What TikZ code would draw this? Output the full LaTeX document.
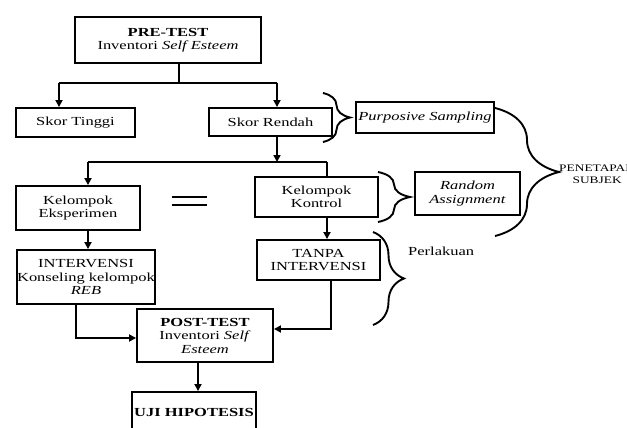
\documentclass[tikz,border=0pt]{standalone}
\usepackage{fontspec}
\setmainfont{Liberation Serif}[FakeStretch=1.34]
\usetikzlibrary{arrows.meta,decorations.pathreplacing}
\tikzset{
  bx/.style={draw, line width=1.9pt, inner sep=0pt, align=center, font=\fontsize{12.3}{13.5}\selectfont},
  ln/.style={line width=1.7pt},
  arr/.style={line width=1.7pt, -{Triangle[length=7pt,width=7pt]}},
  br/.style={line width=1.9pt, decorate, decoration={brace}},
  lbl/.style={inner sep=0pt, align=center}
}
\begin{document}
\begin{tikzpicture}[x=1pt,y=-1pt]
\useasboundingbox (0,0) rectangle (627,428);
\fill[white] (0,0) rectangle (627,428);
% boxes
\node[bx, minimum width=186pt, minimum height=46pt] (pre) at (168,40) {\textbf{PRE-TEST}\\Inventori \textit{Self Esteem}};
\node[bx, minimum width=119pt, minimum height=29pt] (st) at (75.5,122.5) {Skor Tinggi};
\node[bx, minimum width=123pt, minimum height=28pt] (sr) at (270.5,122) {Skor Rendah};
\node[bx, minimum width=138pt, minimum height=31pt] (ps) at (425,117.5) {\textit{Purposive Sampling}};
\node[bx, minimum width=124pt, minimum height=44pt] (ke) at (78,208) {Kelompok\\Eksperimen};
\node[bx, minimum width=123pt, minimum height=40pt] (kk) at (316.5,197) {Kelompok\\Kontrol};
\node[bx, minimum width=105pt, minimum height=43pt] (ra) at (467.5,193.5) {\textit{Random}\\\textit{Assignment}};
\node[bx, minimum width=138pt, minimum height=54pt] (iv) at (86,277) {INTERVENSI\\Konseling kelompok\\\textit{REB}};
\node[bx, minimum width=123pt, minimum height=40pt] (tp) at (318.5,260) {TANPA\\INTERVENSI};
\node[bx, minimum width=136pt, minimum height=53pt] (post) at (205,335.5) {\textbf{POST-TEST}\\Inventori \textit{Self}\\\textit{Esteem}};
\node[bx, minimum width=124pt, minimum height=40pt] (uji) at (194,412) {\textbf{UJI HIPOTESIS}};
% labels
\node[lbl, anchor=west, font=\fontsize{12.3}{13.5}\selectfont] (perl) at (408,251) {Perlakuan};
\node[lbl, anchor=west, font=\fontsize{10}{11.5}\selectfont] (pen) at (559,174) {PENETAPAN\\SUBJEK};
% equal sign
\draw[line width=2pt] (172,197) -- (207,197);
\draw[line width=2pt] (172,205) -- (207,205);
% junctions
\coordinate (j0) at (179,83);
\coordinate (j1) at (59,83);
\coordinate (j2) at (277,83);
\coordinate (j3) at (277,162);
\coordinate (j4) at (88,162);
\coordinate (j5) at (327,162);
\coordinate (j6) at (76,338);
\coordinate (j7) at (331,329);
\coordinate (j8) at (198,0);
% connectors
\draw[ln] (pre.south -| j0) -- (j0);
\draw[ln] (j1) -- (j2);
\draw[arr] (j1) -- (st.north -| j1);
\draw[arr] (j2) -- (sr.north -| j2);
\draw[arr] (sr.south -| j3) -- (j3);
\draw[ln] (j4) -- (j5);
\draw[arr] (j4) -- (ke.north -| j4);
\draw[ln] (j5) -- (kk.north -| j5);
\draw[arr] (ke.south -| j4) -- (iv.north -| j4);
\draw[arr] (kk.south -| j5) -- (tp.north -| j5);
\draw[arr] (iv.south -| j6) -- (j6) -- (post.west |- j6);
\draw[arr] (tp.south -| j7) -- (j7) -- (post.east |- j7);
\draw[arr] (post.south -| j8) -- (uji.north -| j8);
% braces
\draw[br, decoration={amplitude=27pt}] (323,93) -- (323,142);
\draw[br, decoration={amplitude=64pt}] (495,108) -- (495,236);
\draw[br, decoration={amplitude=32pt}] (378,172) -- (378,222);
\draw[br, decoration={amplitude=31pt}] (373,232) -- (373,325);
\end{tikzpicture}
\end{document}
